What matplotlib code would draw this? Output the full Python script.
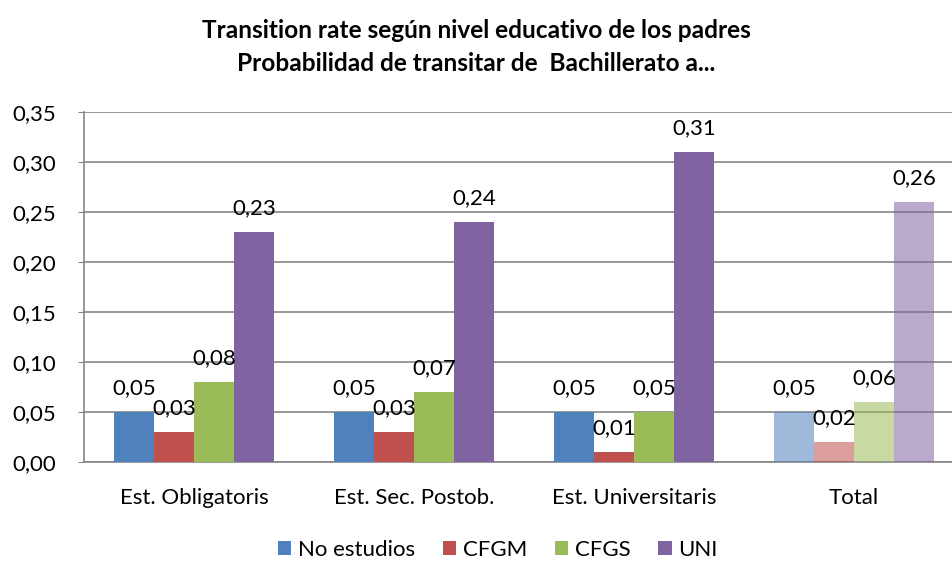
import matplotlib
matplotlib.use("Agg")
import matplotlib.pyplot as plt
import numpy as np

plt.rcParams['font.family'] = ['Lato', 'DejaVu Sans']

categories = ["Est. Obligatoris", "Est. Sec. Postob.", "Est. Universitaris", "Total"]
series_names = ["No estudios", "CFGM", "CFGS", "UNI"]
no_estudios = [0.05, 0.05, 0.05, 0.05]
cfgm = [0.03, 0.03, 0.01, 0.02]
cfgs = [0.08, 0.07, 0.05, 0.06]
uni = [0.23, 0.24, 0.31, 0.26]
yticks = [0.00, 0.05, 0.10, 0.15, 0.20, 0.25, 0.30, 0.35]
title = "Transition rate según nivel educativo de los padres\nProbabilidad de transitar de  Bachillerato a..."

colors = ["#4F81BD", "#C0504D", "#9BBB59", "#8064A2"]
data = [no_estudios, cfgm, cfgs, uni]

fig = plt.figure(figsize=(9.52, 5.63), dpi=100)
ax = fig.add_axes([84/952, (563-462)/563, 880/952, 350/563])

x = np.arange(len(categories))
w = 40/220
for i, (vals, col, name) in enumerate(zip(data, colors, series_names)):
    pos = x + (i - 1.5) * w
    ax.bar(pos[:3], vals[:3], width=w, color=col, zorder=3, label=name)
    ax.bar(pos[3:], vals[3:], width=w, color=col, alpha=0.55, zorder=3)
    for p, v in zip(pos, vals):
        ax.annotate(f"{v:.2f}".replace(".", ","), (p, v), xytext=(0, 10),
                    textcoords="offset points", ha="center", va="bottom",
                    fontsize=16, color="black", zorder=5)

ax.set_xlim(-0.5, 3.5)
ax.set_ylim(0, 0.35)
ax.set_yticks(yticks)
ax.set_yticklabels([f"{t:.2f}".replace(".", ",") for t in yticks], fontsize=16)
ax.set_xticks(x)
ax.set_xticklabels(categories, fontsize=16)
ax.tick_params(axis='x', length=0, pad=19)
ax.tick_params(axis='y', length=4, color="#868686", pad=16)
ax.grid(axis='y', color="#868686", linewidth=1.2, zorder=1)
ax.set_axisbelow(True)
for s in ["top", "right"]:
    ax.spines[s].set_visible(False)
ax.spines["left"].set_color("#868686")
ax.spines["bottom"].set_color("#868686")
ax.spines["left"].set_linewidth(1.2)
ax.spines["bottom"].set_linewidth(1.2)

fig.text(476/952, 1 - 47/563, title, ha="center", va="center", fontsize=17.6,
         fontweight="bold", linespacing=1.5)

fig.legend(loc="center", bbox_to_anchor=(498/952, 1 - 550/563), ncol=4,
           frameon=False, fontsize=16, handlelength=0.6, handleheight=0.6,
           handletextpad=0.3, columnspacing=1.25)

fig.savefig("out.png", dpi=100)
